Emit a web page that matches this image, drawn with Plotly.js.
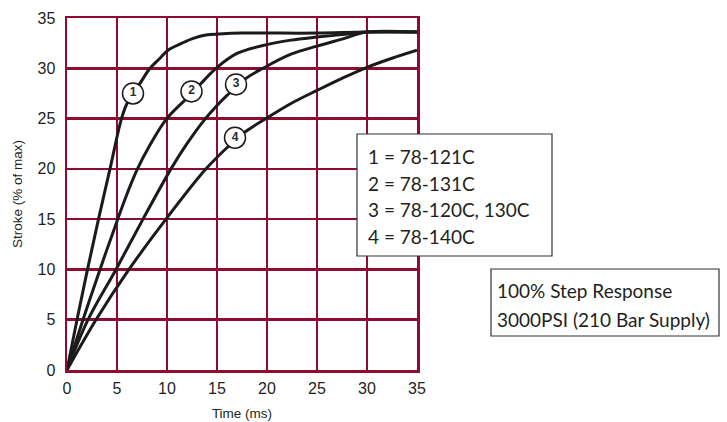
<!DOCTYPE html>
<html>
<head>
<meta charset="utf-8">
<script src="https://cdn.plot.ly/plotly-3.0.1.min.js"></script>
<style>
  html, body { margin: 0; padding: 0; background: #fff; }
  #chart { width: 727px; height: 422px; }
</style>
</head>
<body>
<div id="chart"></div>
<script>
// ---- data ----
const curve1X = [0, 1.0, 2.05, 3.15, 4.3, 5.45, 6.0, 7.3, 8.3, 9.3, 10.1, 11.5, 12.7, 13.9, 15.2, 17.5, 20, 25, 30, 35];
const curve1Y = [0, 5, 10, 15, 20, 25, 26.5, 28.5, 30, 31.0, 31.8, 32.5, 33.0, 33.3, 33.4, 33.5, 33.5, 33.5, 33.6, 33.6];

const curve2X = [0, 1.6, 3.3, 5.0, 6.0, 7.0, 8.2, 9.9, 11.85, 13.7, 14.9, 17.05, 20.2, 22.4, 25, 27.5, 30, 35];
const curve2Y = [0, 5, 10, 14.8, 17.5, 19.9, 22.2, 24.9, 26.9, 28.8, 30, 31.5, 32.4, 32.8, 33.1, 33.35, 33.6, 33.6];

const curve3X = [0, 2.1, 4.9, 7.6, 10.4, 12.0, 13.6, 15.0, 16.0, 17.9, 19.6, 22.4, 25, 27.5, 30, 35];
const curve3Y = [0, 5, 10, 15, 20, 22.5, 24.7, 26.3, 27.3, 29.0, 30, 31.4, 32.2, 32.9, 33.6, 33.6];

const curve4X = [0, 2.9, 6.2, 9.9, 13.9, 16.2, 17.7, 19.9, 22.4, 25, 27.5, 30, 32.5, 35];
const curve4Y = [0, 5, 10, 15, 20, 22.3, 23.6, 25, 26.5, 27.8, 29, 30.1, 31, 31.8];

const labelText = ['1', '2', '3', '4'];
const labelX = [6.6, 12.45, 16.9, 16.8];
const labelY = [27.5, 27.7, 28.4, 23.1];

const xTicks = [0, 5, 10, 15, 20, 25, 30, 35];
const yTicks = [0, 5, 10, 15, 20, 25, 30, 35];

const legendLines = ['1 = 78-121C', '2 = 78-131C', '3 = 78-120C, 130C', '4 = 78-140C'];
const noteLines = ['100% Step Response', '3000PSI (210 Bar Supply)'];

// ---- styling ----
const gridColor = '#8e0c32';
const curveStyle = { color: '#1c1a1b', width: 3, shape: 'spline', smoothing: 1.0 };

const traces = [
  { x: curve1X, y: curve1Y },
  { x: curve2X, y: curve2Y },
  { x: curve3X, y: curve3Y },
  { x: curve4X, y: curve4Y }
].map(t => Object.assign(t, { type: 'scatter', mode: 'lines', line: curveStyle, hoverinfo: 'skip', cliponaxis: false }));

traces.push({
  type: 'scatter',
  mode: 'markers+text',
  x: labelX,
  y: labelY,
  text: labelText.map(s => '<b>' + s + '</b>'),
  textposition: 'middle center',
  textfont: { family: 'Liberation Sans, Arial, sans-serif', size: 12, color: '#2a2a2a' },
  marker: { size: 21, color: '#ffffff', line: { color: '#1c1a1b', width: 1.5 } },
  cliponaxis: false,
  hoverinfo: 'skip'
});

// plot area in pixels: x 67..417, y 18..370
const L = 67, R = 417, T = 18, B = 370;
const px = v => (v - L) / (R - L);
const py = v => (B - v) / (B - T);

const boxFont = { family: 'Lato, "Open Sans", sans-serif', size: 19, color: '#231f20' };

const annotations = [];
const box1Rows = [156.5, 183.2, 209.9, 236.6];
legendLines.forEach((s, i) => annotations.push({
  xref: 'paper', yref: 'paper', x: px(366), y: py(box1Rows[i]),
  xanchor: 'left', yanchor: 'middle', text: s, showarrow: false, font: boxFont, align: 'left'
}));
const box2Rows = [290.5, 319.2];
noteLines.forEach((s, i) => annotations.push({
  xref: 'paper', yref: 'paper', x: px(495), y: py(box2Rows[i]),
  xanchor: 'left', yanchor: 'middle', text: s, showarrow: false, font: boxFont, align: 'left'
}));

const shapes = [
  { type: 'rect', xref: 'paper', yref: 'paper', x0: px(357), x1: px(552), y0: py(256), y1: py(134),
    fillcolor: '#ffffff', line: { color: '#333333', width: 1.2 }, layer: 'above' },
  { type: 'rect', xref: 'paper', yref: 'paper', x0: px(491), x1: px(719), y0: py(336), y1: py(269),
    fillcolor: '#ffffff', line: { color: '#333333', width: 1.2 }, layer: 'above' }
];

const axisCommon = {
  range: [0, 35],
  showgrid: true, gridcolor: gridColor, gridwidth: 2.5,
  showline: true, mirror: true, linecolor: gridColor, linewidth: 2.5,
  zeroline: false, ticks: '', fixedrange: true,
  tickfont: { family: 'Liberation Sans, Arial, sans-serif', size: 16, color: '#231f20' }
};

const layout = {
  width: 727, height: 422,
  margin: { l: L, r: 727 - R, t: T, b: 422 - B, pad: 0 },
  paper_bgcolor: '#ffffff', plot_bgcolor: '#ffffff',
  showlegend: false,
  xaxis: Object.assign({}, axisCommon, {
    tickvals: xTicks, ticktext: xTicks.map(String),
    ticklabelstandoff: 2,
    title: { text: 'Time (ms)', font: { family: 'Liberation Sans, Arial, sans-serif', size: 13.5, color: '#231f20' }, standoff: 13 }
  }),
  yaxis: Object.assign({}, axisCommon, {
    tickvals: yTicks, ticktext: yTicks.map(String),
    ticklabelstandoff: 6,
    title: { text: 'Stroke (% of max)', font: { family: 'Liberation Sans, Arial, sans-serif', size: 13.5, color: '#231f20' }, standoff: 12 }
  }),
  shapes: shapes,
  annotations: annotations
};

Plotly.newPlot('chart', traces, layout, { staticPlot: true, displayModeBar: false });
</script>
</body>
</html>
